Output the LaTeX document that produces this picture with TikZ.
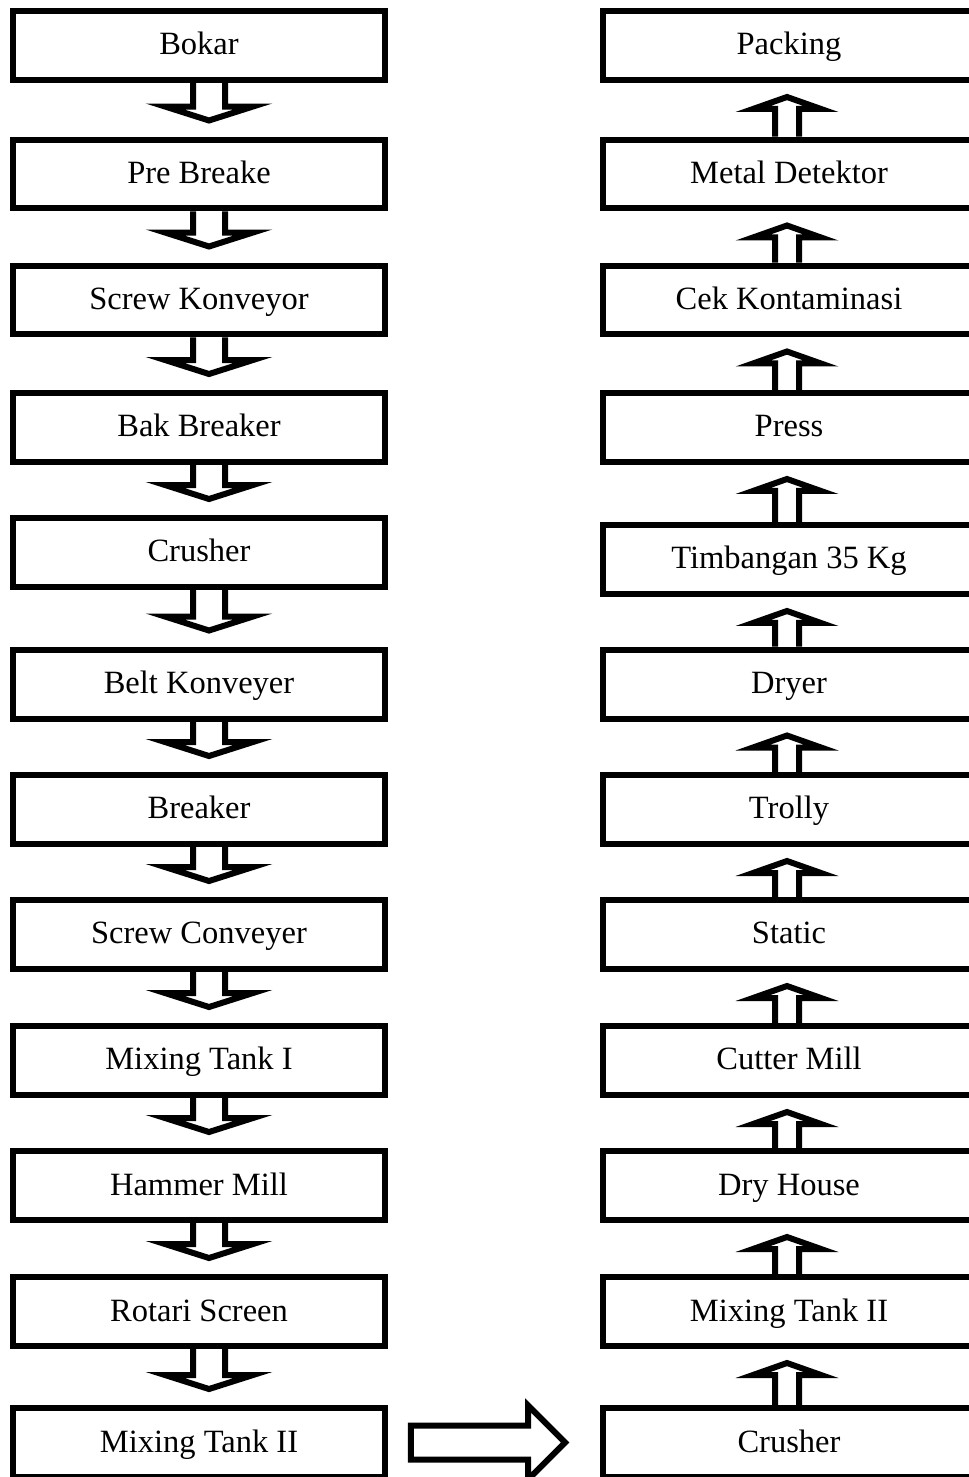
\documentclass[tikz,border=0pt]{standalone}
\usepackage{fontspec}
\setmainfont{Liberation Serif}
\usetikzlibrary{calc}

\tikzset{
  box/.style={draw,line width=0.12cm,minimum width=7.44cm,minimum height=1.38cm,inner sep=0pt,
    text height=13pt,text depth=2.2pt,font=\fontsize{18.5}{22}\selectfont},
  flow/.style={draw,line width=0.12cm,line join=miter}
}
% hollow block arrow down, from box #1 to box #2
\newcommand{\downflow}[2]{%
  \draw[flow] ($(#1.south)+(-6,0)$) -- ($(#2.north)+(-6,-30)$) -- ($(#2.north)+(-34,-30)$)
    -- ($(#2.north)+(10,-16)$) -- ($(#2.north)+(54,-30)$) -- ($(#2.north)+(26,-30)$) -- ($(#1.south)+(26,0)$);}
% hollow block arrow up, from box #1 to box #2
\newcommand{\upflow}[2]{%
  \draw[flow] ($(#1.north)+(-14,0)$) -- ($(#2.south)+(-14,26)$) -- ($(#2.south)+(-36,26)$)
    -- ($(#2.south)+(-2,14)$) -- ($(#2.south)+(32,26)$) -- ($(#2.south)+(10,26)$) -- ($(#1.north)+(10,0)$);}

\begin{document}
\begin{tikzpicture}[x=0.02cm,y=-0.02cm]
  \useasboundingbox (0,0) rectangle (968,1477);

  % left column
  \node[box] (bokar) at (199,45.5) {Bokar};
  \node[box] (prebreak) at (199,174) {Pre Breake};
  \node[box] (screwk) at (199,300) {Screw Konveyor};
  \node[box] (bak) at (199,427.5) {Bak Breaker};
  \node[box] (crush1) at (199,552.5) {Crusher};
  \node[box] (belt) at (199,684) {Belt Konveyer};
  \node[box] (breaker) at (199,809.5) {Breaker};
  \node[box] (screwc) at (199,934.5) {Screw Conveyer};
  \node[box] (mix1) at (199,1060.5) {Mixing Tank I};
  \node[box] (hammer) at (199,1185.5) {Hammer Mill};
  \node[box] (rotari) at (199,1311.5) {Rotari Screen};
  \node[box] (mix2a) at (199,1442.5) {Mixing Tank II};

  % right column
  \node[box] (crush2) at (789,1442.5) {Crusher};
  \node[box] (mix2b) at (789,1311.5) {Mixing Tank II};
  \node[box] (dryhouse) at (789,1185.5) {Dry House};
  \node[box] (cutter) at (789,1060.5) {Cutter Mill};
  \node[box] (static) at (789,934.5) {Static};
  \node[box] (trolly) at (789,809.5) {Trolly};
  \node[box] (dryer) at (789,684) {Dryer};
  \node[box] (timb) at (789,559.5) {Timbangan 35 Kg};
  \node[box] (press) at (789,427.5) {Press};
  \node[box] (cek) at (789,300) {Cek Kontaminasi};
  \node[box] (metal) at (789,174) {Metal Detektor};
  \node[box] (packing) at (789,45.5) {Packing};

  % arrows
  \downflow{bokar}{prebreak}
  \downflow{prebreak}{screwk}
  \downflow{screwk}{bak}
  \downflow{bak}{crush1}
  \downflow{crush1}{belt}
  \downflow{belt}{breaker}
  \downflow{breaker}{screwc}
  \downflow{screwc}{mix1}
  \downflow{mix1}{hammer}
  \downflow{hammer}{rotari}
  \downflow{rotari}{mix2a}

  \draw[flow] ($(mix2a.east)+(23,-17)$) -- ($(crush2.west)+(-72,-17)$) -- ($(crush2.west)+(-72,-37)$)
    -- ($(crush2.west)+(-35,0)$) -- ($(crush2.west)+(-72,37)$) -- ($(crush2.west)+(-72,17)$)
    -- ($(mix2a.east)+(23,17)$) -- cycle;

  \upflow{crush2}{mix2b}
  \upflow{mix2b}{dryhouse}
  \upflow{dryhouse}{cutter}
  \upflow{cutter}{static}
  \upflow{static}{trolly}
  \upflow{trolly}{dryer}
  \upflow{dryer}{timb}
  \upflow{timb}{press}
  \upflow{press}{cek}
  \upflow{cek}{metal}
  \upflow{metal}{packing}
\end{tikzpicture}
\end{document}
